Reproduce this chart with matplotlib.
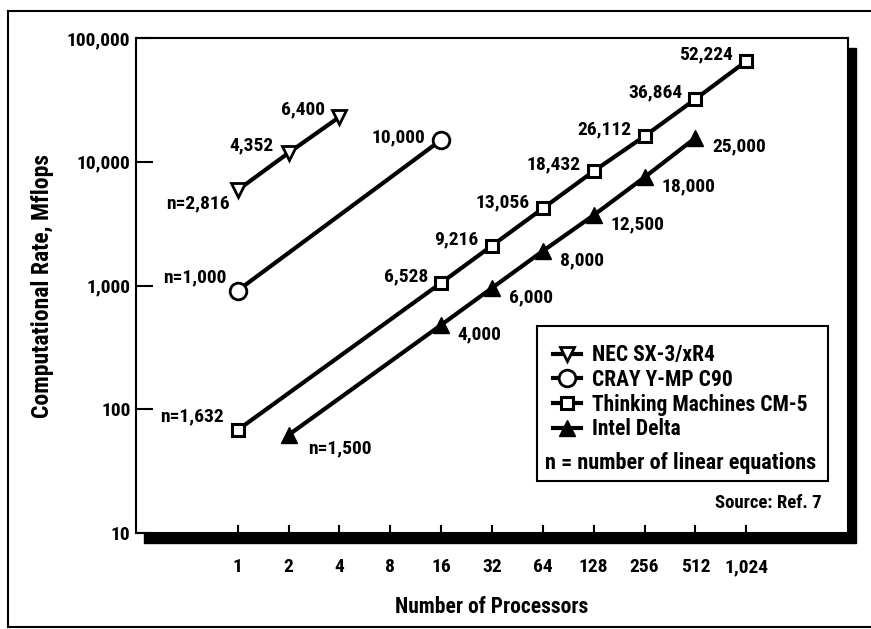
import matplotlib
matplotlib.use('Agg')
import matplotlib.pyplot as plt
from matplotlib.patches import Rectangle
from matplotlib.lines import Line2D
from matplotlib.ticker import FixedLocator, NullLocator, FuncFormatter

plt.rcParams['font.family'] = ['Roboto Condensed', 'Liberation Sans Narrow', 'Roboto', 'DejaVu Sans']
plt.rcParams['font.weight'] = 'bold'

# processors and rates (Mflops)
nec_procs = [1, 2, 4]
nec_rate = [5900, 11800, 23000]
nec_n = ['n=2,816', '4,352', '6,400']

cray_procs = [1, 16]
cray_rate = [910, 15000]
cray_n = ['n=1,000', '10,000']

cm5_procs = [1, 16, 32, 64, 128, 256, 512, 1024]
cm5_rate = [68, 1050, 2100, 4200, 8400, 16100, 32100, 65000]
cm5_n = ['n=1,632', '6,528', '9,216', '13,056', '18,432', '26,112', '36,864', '52,224']

intel_procs = [2, 16, 32, 64, 128, 256, 512]
intel_rate = [62, 480, 955, 1900, 3700, 7500, 15600]
intel_n = ['n=1,500', '4,000', '6,000', '8,000', '12,500', '18,000', '25,000']

x_ticks = [1, 2, 4, 8, 16, 32, 64, 128, 256, 512, 1024]
y_ticks = [10, 100, 1000, 10000, 100000]

FS = 14

fig = plt.figure(figsize=(8.71, 6.29), dpi=100)
ax = fig.add_axes([136 / 871, 1 - 533 / 629, 712 / 871, 495 / 629])
ax.set_facecolor('white')

# drop shadow behind the plot frame
fig.patches.append(Rectangle((144 / 871, 1 - 543 / 629), 712 / 871, 495 / 629,
                             transform=fig.transFigure, color='black', zorder=-1))
# outer border (open on the right)
for xs, ys in [([8 / 871, 8 / 871], [1 - 11 / 629, 1 - 627 / 629]),
               ([8 / 871, 1], [1 - 11 / 629, 1 - 11 / 629]),
               ([8 / 871, 1], [1 - 627 / 629, 1 - 627 / 629])]:
    fig.add_artist(Line2D(xs, ys, transform=fig.transFigure, color='black', lw=1.5))

ax.set_xscale('log', base=2)
ax.set_yscale('log')
ax.set_xlim(0.25, 4096)
ax.set_ylim(10, 100000)

lw = 3
ax.plot(nec_procs, nec_rate, color='black', lw=lw, marker='v', ms=10, mew=2,
        mfc='white', mec='black', label='NEC SX-3/xR4', zorder=3)
ax.plot(cray_procs, cray_rate, color='black', lw=lw, marker='o', ms=12, mew=2,
        mfc='white', mec='black', label='CRAY Y-MP C90', zorder=3)
ax.plot(cm5_procs, cm5_rate, color='black', lw=lw, marker='s', ms=9, mew=2.2,
        mfc='white', mec='black', label='Thinking Machines CM-5', zorder=3)
ax.plot(intel_procs, intel_rate, color='black', lw=lw, marker='^', ms=12,
        label='Intel Delta', zorder=3)


def label_points(xs, ys, texts, first_off, off, ha):
    for i, (x, y, t) in enumerate(zip(xs, ys, texts)):
        ax.annotate(t, (x, y), xytext=first_off if i == 0 else off,
                    textcoords='offset points', ha=ha, va='center', fontsize=FS)


label_points(nec_procs, nec_rate, nec_n, (-6, -9.5), (-10.5, 5.5), 'right')
label_points(cray_procs, cray_rate, cray_n, (-8, 9.5), (-11.5, 1.5), 'right')
label_points(cm5_procs, cm5_rate, cm5_n, (-10, 9.5), (-9.5, 4.5), 'right')
label_points(intel_procs, intel_rate, intel_n, (14, -9.5), (12, -6.5), 'left')

fmt = FuncFormatter(lambda v, p: '{:,}'.format(int(round(v))))
ax.xaxis.set_major_locator(FixedLocator(x_ticks))
ax.xaxis.set_minor_locator(NullLocator())
ax.xaxis.set_major_formatter(fmt)
ax.yaxis.set_major_locator(FixedLocator(y_ticks))
ax.yaxis.set_minor_locator(NullLocator())
ax.yaxis.set_major_formatter(fmt)

ax.tick_params(axis='y', direction='in', length=12, width=1.5, pad=4, labelsize=FS)
ax.tick_params(axis='x', direction='in', length=6, width=1.5, pad=18, labelsize=FS)
for s in ax.spines.values():
    s.set_linewidth(1.5)

ax.set_ylabel('Computational Rate, Mflops', fontsize=17, fontweight='bold')
ax.yaxis.set_label_coords(-0.115, 0.5)
ax.set_xlabel('Number of Processors', fontsize=15.5, fontweight='bold')
ax.xaxis.set_label_coords(0.5, -0.127)

# legend with hand drawn frame and note line
ax.add_patch(Rectangle((0.563, 0.105), 0.409, 0.313, transform=ax.transAxes,
                       fill=False, ec='black', lw=1.5, zorder=4))
ax.legend(loc='upper left', bbox_to_anchor=(0.586, 0.381), frameon=False,
          borderpad=0, borderaxespad=0, handlelength=1.3, handletextpad=0.5,
          labelspacing=0.12, fontsize=15.5)
ax.text(0.574, 0.141, 'n = number of linear equations', transform=ax.transAxes,
        ha='left', va='center', fontsize=16)
ax.text(0.963, 0.06, 'Source: Ref. 7', transform=ax.transAxes,
        ha='right', va='center', fontsize=13.5)

fig.savefig('out.png', dpi=100)
